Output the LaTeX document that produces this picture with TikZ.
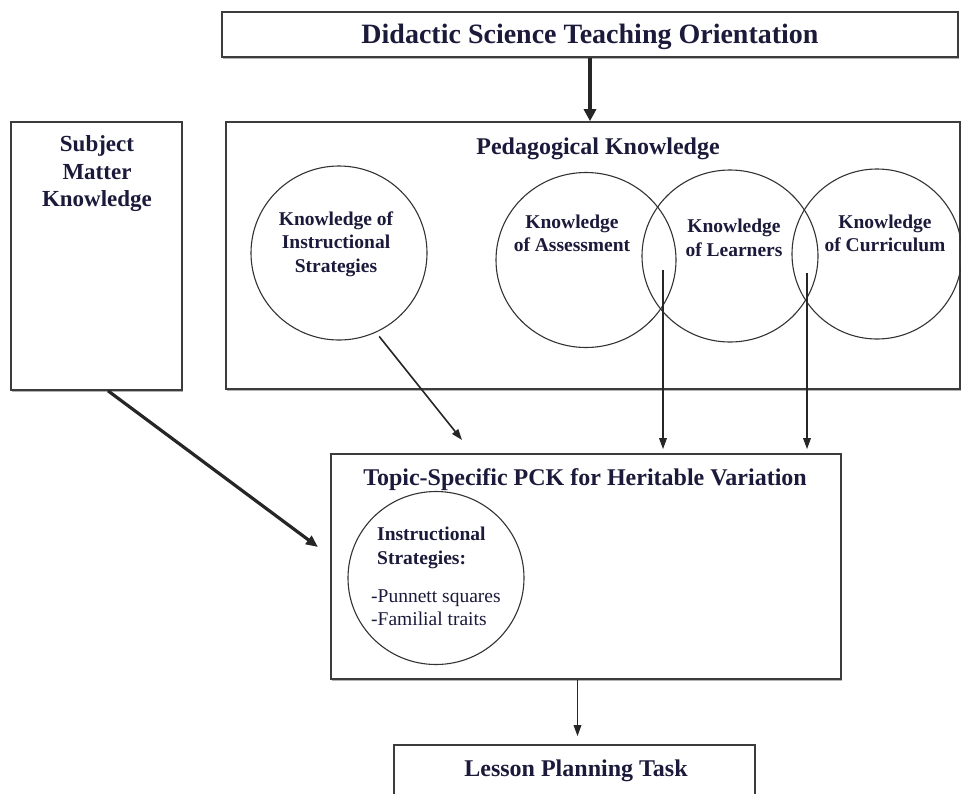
\documentclass[tikz,border=0pt]{standalone}
\usepackage{fontspec}
\setmainfont{Liberation Serif}
\usepackage{xcolor}
\usepackage{tikz}
\usetikzlibrary{arrows.meta,positioning,shapes.geometric,shadows}
\definecolor{ink}{RGB}{28,26,58}
\definecolor{edge}{RGB}{60,60,60}

\begin{document}
\begin{tikzpicture}[
  x=1pt, y=-1pt,
  every node/.style={text=ink},
  box/.style={
    draw=edge, line width=1.6pt, fill=white, inner sep=0pt,
    drop shadow={shadow xshift=1.2pt, shadow yshift=-2pt, fill=black!30, opacity=1},
  },
  area/.style={ellipse, draw=black!80, line width=1.1pt, inner sep=0pt},
  title/.style={font=\bfseries\fontsize{24}{27}\selectfont, align=center, inner sep=0pt},
  small/.style={font=\bfseries\fontsize{19.5}{23.5}\selectfont, align=center, inner sep=0pt},
  items/.style={font=\fontsize{19.5}{23}\selectfont, align=left, inner sep=0pt},
  arrow/.style={-{Triangle[length=11pt,width=7.5pt]}, line width=1.6pt, black!85},
  heavy/.style={-{Triangle[length=12pt,width=12pt]}, line width=3.8pt, black!85},
]
\useasboundingbox (0,0) rectangle (961,793);

% Top: orientation
\node[box, minimum width=736pt, minimum height=45pt,
      font=\bfseries\fontsize{28}{32}\selectfont, text depth=2pt] (orient) at (590,34.5)
  {Didactic Science Teaching Orientation};

% Subject matter knowledge (left column)
\node[box, minimum width=171pt, minimum height=268pt] (smk) at (96.5,256) {};
\node[title, font=\bfseries\fontsize{23}{27.5}\selectfont] (smk-t) at (97,174)
  {Subject\\Matter\\Knowledge};

% Pedagogical knowledge with its four areas
\node[box, minimum width=734pt, minimum height=267pt] (ped) at (593,255.5) {};
\node[title] (ped-t) at (598,149) {Pedagogical Knowledge};

\node[area, minimum width=176pt, minimum height=174pt] (kis) at (339,253) {};
\node[area, minimum width=180pt, minimum height=175pt] (kas) at (586,260) {};
\node[area, minimum width=176pt, minimum height=172pt] (klr) at (730,256) {};
\node[area, minimum width=170pt, minimum height=170pt] (kcu) at (877,254) {};

\node[small] (kis-t) at (336,244) {Knowledge of\\Instructional\\Strategies};
\node[small] (kas-t) at (572,233.5) {Knowledge\\of Assessment};
\node[small] (klr-t) at (734,238) {Knowledge\\of Learners};
\node[small] (kcu-t) at (885,233.5) {Knowledge\\of Curriculum};

% Topic-specific PCK
\node[box, minimum width=510pt, minimum height=225pt] (pck) at (586,566.5) {};
\node[title] (pck-t) at (585,480) {Topic-Specific PCK for Heritable Variation};

\node[area, minimum width=176pt, minimum height=173pt] (ist) at (436,578) {};
\node[small, align=left, anchor=west] (ist-t) at (377,548) {Instructional\\Strategies:};
\node[items, anchor=west] (ist-l) at (371,607.5) {-Punnett squares\\-Familial traits};

% Bottom: task
\node[box, minimum width=361pt, minimum height=55pt] (task) at (574.5,772.5) {};
\node[title] (task-t) at (576,771) {Lesson Planning Task};

% Arrows
\coordinate (kl-src) at (663,270);
\coordinate (kc-src) at (807,273);
\coordinate (kis-tip) at (462,440);
\coordinate (smk-tip) at (318,547);

\draw[heavy] (orient.south) -- (orient.south |- ped.north);
\draw[arrow, shorten <=5pt] (kis.-65) -- (kis-tip);
\draw[arrow, shorten >=4pt] (kl-src) -- (kl-src |- pck.north);
\draw[arrow, shorten >=4pt] (kc-src) -- (kc-src |- pck.north);
\draw[heavy, line width=3.2pt, -{Triangle[length=12pt,width=10pt]}]
  ([xshift=11.5pt]smk.south) -- (smk-tip);
\draw[arrow, shorten >=8pt] ([xshift=-8.5pt]pck.south) -- ([xshift=-8.5pt]pck.south |- task.north);

\end{tikzpicture}
\end{document}
